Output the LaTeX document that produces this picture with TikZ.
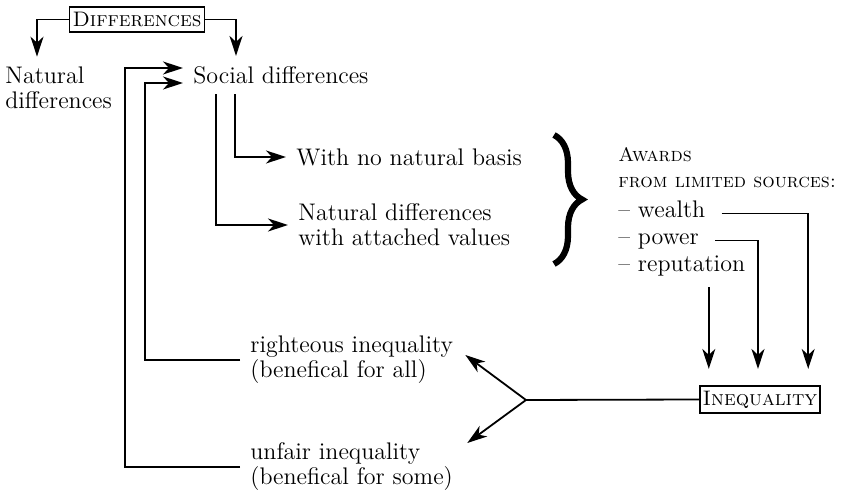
\documentclass[tikz,border=0pt]{standalone}
\usepackage{amsmath}
\usetikzlibrary{arrows.meta, positioning, decorations.pathreplacing}

\begin{document}
\begin{tikzpicture}[x=0.5pt, y=-0.5pt,
    every node/.style={font=\fontsize{12}{12.5}\selectfont},
    txt/.style={inner sep=5pt, align=left},
    caps/.style={draw, line width=0.9pt, inner ysep=2.5pt, inner xsep=1.5pt,
        font=\fontsize{10.5}{12.5}\selectfont},
    link/.style={line width=0.9pt},
    arr/.style={link, -{Stealth[length=10pt, width=6.5pt, inset=3pt]}}]
    \useasboundingbox (0,0) rectangle (842,497);

    % Differences
    \node[caps] (diff) at (137,19.5) {\textsc{Differences}};
    \node[txt, anchor=west] (natdiff) at (-5,88) {Natural\\differences};
    \node[txt, anchor=west] (social) at (183,75) {Social differences};
    \draw[arr] (diff.west) -| ([xshift=21pt]natdiff.north west);
    \draw[arr] (diff.east) -| ([xshift=26.5pt]social.north west);

    % Social differences
    \node[txt, anchor=west] (nobasis) at (286,157) {With no natural basis};
    \node[txt, anchor=west] (attached) at (288,225) {Natural differences\\with attached values};
    \draw[arr] ([xshift=26pt]social.south west) |- (nobasis.west);
    \draw[arr] ([xshift=16.5pt]social.south west) |- (attached.west);

    % Awards
    \draw[line width=3.1pt, decorate, decoration={brace, amplitude=14pt}] (554,135) -- (554,264);
    \node[txt, anchor=west, font=\fontsize{9.8}{13}\selectfont] (awards) at (608,168)
        {\textsc{Awards}\\\textsc{from limited sources:}};
    \node[txt, anchor=base west] (wealth) at (608,218) {-- wealth};
    \node[txt, anchor=base west] (power) at (608,245) {-- power};
    \node[txt, anchor=base west] (reput) at (608,272) {-- reputation};

    % Inequality
    \node[caps] (ineq) at (760,399.5) {\textsc{Inequality}};
    \draw[arr, shorten >=8pt] ([xshift=3pt, yshift=2.2pt]wealth.base east) -| ([xshift=-6.5pt]ineq.north east);
    \draw[arr, shorten >=8pt] ([xshift=3pt, yshift=2.2pt]power.base east) -| ([xshift=-1pt]ineq.north);
    \draw[arr, shorten >=8pt] ([xshift=5pt]ineq.north west |- reput.south) -- ([xshift=5pt]ineq.north west);

    % Fork
    \node[txt, anchor=west] (righteous) at (240,360) {righteous inequality\\(benefical for all)};
    \node[txt, anchor=west] (unfair) at (240,467) {unfair inequality\\(benefical for some)};
    \coordinate (fork) at (526,400);
    \draw[link] (ineq.west) -- (fork);
    \draw[arr] (fork) -- ([xshift=1pt, yshift=2.5pt]righteous.east);
    \draw[arr] (fork) -- ([xshift=2pt, yshift=12pt]unfair.east);

    % Back to social differences
    \draw[arr] (righteous.west) -- ++(-95,0) |- ([yshift=-4pt]social.west);
    \draw[arr] (unfair.west) -- ++(-115,0) |- ([yshift=3.5pt]social.west);
\end{tikzpicture}
\end{document}
